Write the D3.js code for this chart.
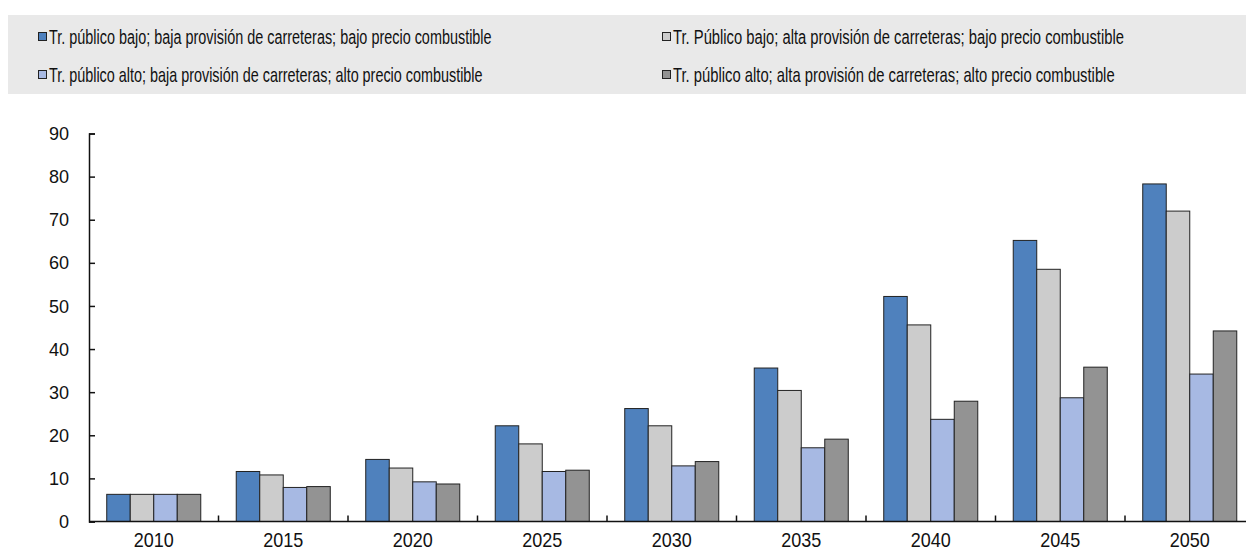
<!DOCTYPE html>
<html>
<head>
<meta charset="utf-8">
<script src="https://cdn.jsdelivr.net/npm/d3@7"></script>
<style>
  body { margin: 0; background: #fff; }
  svg { display: block; font-family: "Liberation Sans", Arial, sans-serif; }
</style>
</head>
<body>
<div id="chart"></div>
<script>
var years = ["2010", "2015", "2020", "2025", "2030", "2035", "2040", "2045", "2050"];
var seriesNames = [
  "Tr. público bajo; baja provisión de carreteras; bajo precio combustible",
  "Tr. Público bajo; alta provisión de carreteras; bajo precio combustible",
  "Tr. público alto; baja provisión de carreteras; alto precio combustible",
  "Tr. público alto; alta provisión de carreteras; alto precio combustible"
];
var seriesColors = ["#4f81bd", "#cccccc", "#a7b9e3", "#939393"];
var s1 = [6.3, 11.6, 14.4, 22.2, 26.2, 35.6, 52.2, 65.2, 78.3];
var s2 = [6.3, 10.8, 12.4, 18.0, 22.2, 30.4, 45.6, 58.5, 72.0];
var s3 = [6.3, 7.9, 9.2, 11.6, 12.9, 17.1, 23.7, 28.7, 34.2];
var s4 = [6.3, 8.1, 8.7, 11.9, 13.9, 19.1, 27.9, 35.8, 44.2];
var yTicks = [0, 10, 20, 30, 40, 50, 60, 70, 80, 90];

var width = 1246, height = 550;
var seriesValues = [s1, s2, s3, s4];

var svg = d3.select("#chart").append("svg")
  .attr("width", width)
  .attr("height", height);

// legend box
var legend = svg.append("g").attr("class", "legend");
legend.append("rect")
  .attr("x", 8).attr("y", 15)
  .attr("width", width - 8).attr("height", 79)
  .attr("fill", "#e9e9e9");

var legendPos = [[38, 37], [662, 37], [38, 75], [662, 75]];
var legendWidths = [443, 451, 434, 442];
seriesNames.forEach(function (name, i) {
  var g = legend.append("g")
    .attr("transform", "translate(" + legendPos[i][0] + "," + legendPos[i][1] + ")");
  g.append("rect")
    .attr("x", 0.5).attr("y", -4.5)
    .attr("width", 8).attr("height", 8)
    .attr("fill", seriesColors[i])
    .attr("stroke", "#222")
    .attr("stroke-width", 1);
  // the source font is a narrow one, so squeeze the label to its width
  var t = g.append("g").attr("transform", "translate(11,0)")
    .append("text")
    .attr("dy", "0.35em")
    .attr("font-size", 20)
    .attr("fill", "#111")
    .text(name);
  var k = legendWidths[i] / t.node().getComputedTextLength();
  d3.select(t.node().parentNode).attr("transform", "translate(11,0) scale(" + k + ",1)");
});

// scales
var x0 = d3.scaleBand()
  .domain(years)
  .range([89, 89 + 129.5 * years.length]);

var bw = x0.bandwidth();
var x1 = d3.scaleBand()
  .domain(d3.range(seriesNames.length))
  .range([bw * 0.137, bw * 0.863]);

var y = d3.scaleLinear()
  .domain([0, 90])
  .range([521.5, 133.5]);

var chart = svg.append("g").attr("class", "chart");

// bars
var groups = chart.selectAll("g.year")
  .data(years)
  .join("g")
  .attr("class", "year")
  .attr("transform", function (d) { return "translate(" + x0(d) + ",0)"; });

groups.selectAll("rect")
  .data(function (d, i) {
    return seriesValues.map(function (vals, k) { return { k: k, v: vals[i] }; });
  })
  .join("rect")
  .attr("x", function (d) { return x1(d.k); })
  .attr("y", function (d) { return y(d.v); })
  .attr("width", x1.bandwidth())
  .attr("height", function (d) { return y(0) - y(d.v); })
  .attr("fill", function (d) { return seriesColors[d.k]; })
  .attr("stroke", "#222")
  .attr("stroke-width", 1);

// y axis
var yAxis = chart.append("g")
  .attr("transform", "translate(89,0)")
  .call(d3.axisLeft(y).tickValues(yTicks).tickSize(-6).tickPadding(20));
yAxis.select(".domain").attr("stroke", "#111").attr("stroke-width", 1.5);
yAxis.selectAll(".tick line").attr("stroke", "#111").attr("stroke-width", 1.5);
yAxis.selectAll(".tick text")
  .attr("font-size", 19)
  .attr("fill", "#111")
  .attr("font-family", null)
  .attr("transform", "translate(-20,0) scale(0.95,1) translate(20,0)");

// x axis
var xAxis = chart.append("g").attr("class", "x-axis");
xAxis.append("line")
  .attr("x1", 89).attr("x2", width)
  .attr("y1", y(0)).attr("y2", y(0))
  .attr("stroke", "#111").attr("stroke-width", 1.5);
xAxis.selectAll("line.sep")
  .data(years.slice(1))
  .join("line")
  .attr("class", "sep")
  .attr("x1", function (d) { return x0(d); })
  .attr("x2", function (d) { return x0(d); })
  .attr("y1", y(0)).attr("y2", y(0) - 6)
  .attr("stroke", "#111").attr("stroke-width", 1.5);
xAxis.selectAll("text")
  .data(years)
  .join("text")
  .attr("transform", function (d) {
    return "translate(" + (x0(d) + bw / 2) + ",540) scale(0.9,1)";
  })
  .attr("dy", "0.35em")
  .attr("text-anchor", "middle")
  .attr("font-size", 20)
  .attr("fill", "#111")
  .text(function (d) { return d; });
</script>
</body>
</html>
